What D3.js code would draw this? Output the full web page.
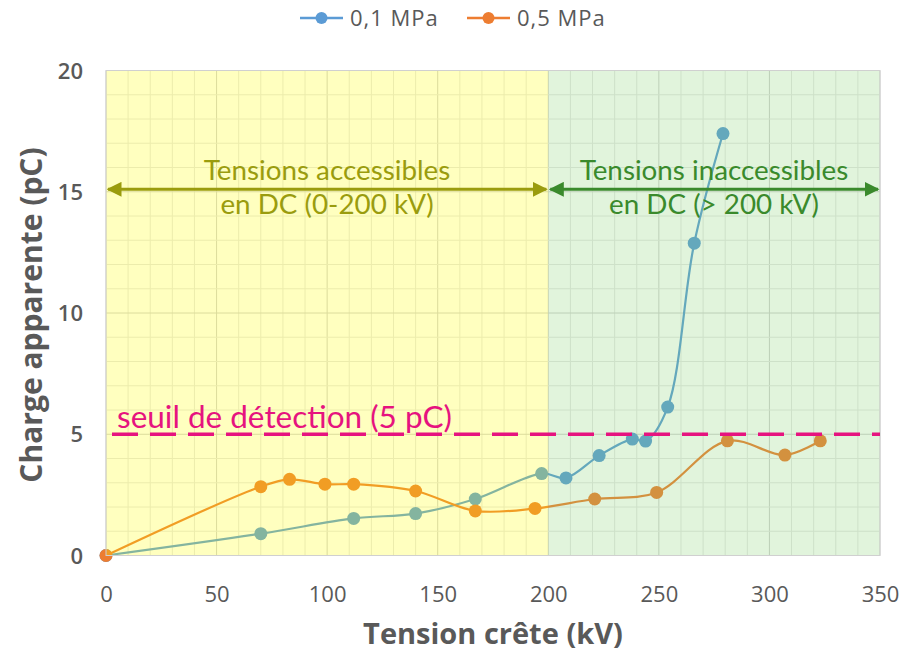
<!DOCTYPE html>
<html><head><meta charset="utf-8">
<script src="https://cdn.jsdelivr.net/npm/d3@7"></script>
<style>body{margin:0;background:#fff}svg{display:block}</style>
</head><body>
<svg id="c" width="905" height="657"></svg>
<script>
const seriesNames = ["0,1 MPa", "0,5 MPa"];
const blueX = [0, 70, 112, 140, 167, 197, 208, 223, 238, 244, 254, 266, 279];
const blueY = [0, 0.9, 1.53, 1.73, 2.33, 3.38, 3.2, 4.12, 4.8, 4.72, 6.12, 12.88, 17.4];
const orangeX = [0, 70, 83, 99, 112, 140, 167, 194, 221, 249, 281, 307, 323];
const orangeY = [0, 2.84, 3.14, 2.94, 2.94, 2.66, 1.84, 1.94, 2.33, 2.6, 4.73, 4.14, 4.73];
const xTicks = [0, 50, 100, 150, 200, 250, 300, 350];
const yTicks = [0, 5, 10, 15, 20];
const threshold = 5;
const zoneLimit = 200;
const arrowLevel = 15.1;
const xMax = 350, yMax = 20;

const svg = d3.select("#c");
const L = 106, R = 880, T = 70.5, B = 555.5;
const x = d3.scaleLinear().domain([0, xMax]).range([L, R]);
const y = d3.scaleLinear().domain([0, yMax]).range([B, T]);
const txt = "#595959";

// grid
const g = svg.append("g");
g.selectAll(".vx").data(d3.range(0, xMax + 1, 10)).join("line")
  .attr("x1", d => x(d)).attr("x2", d => x(d)).attr("y1", T).attr("y2", B)
  .attr("stroke", d => d % 50 === 0 ? "#d0d0d0" : "#e6e6e6").attr("stroke-width", 1);
g.selectAll(".hy").data(d3.range(0, yMax + 1, 1)).join("line")
  .attr("y1", d => y(d)).attr("y2", d => y(d)).attr("x1", L).attr("x2", R)
  .attr("stroke", d => d % 5 === 0 ? "#d0d0d0" : "#e6e6e6").attr("stroke-width", 1);

// series
const curve = d3.curveCatmullRom.alpha(0.5);
const series = [
  {name: seriesNames[0], xs: blueX, ys: blueY, color: "#5b9bd5"},
  {name: seriesNames[1], xs: orangeX, ys: orangeY, color: "#ed7d31"}
];
const line = d3.line().x(d => x(d[0])).y(d => y(d[1])).curve(curve);
series.forEach(s => {
  const pts = s.xs.map((v, i) => [v, s.ys[i]]);
  svg.append("path").datum(pts).attr("d", line).attr("fill", "none")
    .attr("stroke", s.color).attr("stroke-width", 2.2);
  svg.append("g").selectAll("circle").data(pts).join("circle")
    .attr("cx", d => x(d[0])).attr("cy", d => y(d[1])).attr("r", 6.5).attr("fill", s.color);
});

// zone overlays
svg.append("rect").attr("x", x(0)).attr("y", T).attr("width", x(zoneLimit) - x(0)).attr("height", B - T)
  .attr("fill", "rgb(255,255,0)").attr("fill-opacity", 0.25);
svg.append("rect").attr("x", x(zoneLimit)).attr("y", T).attr("width", x(xMax) - x(zoneLimit)).attr("height", B - T)
  .attr("fill", "rgb(130,210,110)").attr("fill-opacity", 0.24);
svg.append("rect").attr("x", L).attr("y", T).attr("width", R - L).attr("height", B - T)
  .attr("fill", "none").attr("stroke", "#d0d0d0").attr("stroke-width", 1);

// threshold
svg.append("line").attr("x1", x(0) + 6).attr("x2", x(xMax)).attr("y1", y(threshold)).attr("y2", y(threshold))
  .attr("stroke", "#e6137f").attr("stroke-width", 3.5).attr("stroke-dasharray", "26,12");
svg.append("text").attr("x", 117).attr("y", y(threshold) - 6).text("seuil de détection (5 pC)")
  .attr("font-family", "Lato").attr("font-size", 31.5).attr("fill", "#e6137f");

// arrows
const defs = svg.append("defs");
function marker(id, color) {
  defs.append("marker").attr("id", id).attr("viewBox", "0 0 10 10").attr("refX", 9).attr("refY", 5)
    .attr("markerWidth", 5).attr("markerHeight", 5).attr("orient", "auto-start-reverse").attr("markerUnits", "strokeWidth")
    .append("path").attr("d", "M0,0L10,5L0,10z").attr("fill", color);
}
const olive = "#9a9c0e", green = "#3a8a2c";
marker("mo", olive); marker("mg", green);
const ay = y(arrowLevel);
svg.append("line").attr("x1", x(0) + 2).attr("x2", x(zoneLimit) - 2).attr("y1", ay).attr("y2", ay)
  .attr("stroke", olive).attr("stroke-width", 3).attr("marker-start", "url(#mo)").attr("marker-end", "url(#mo)");
svg.append("line").attr("x1", x(zoneLimit) + 2).attr("x2", x(xMax) - 2).attr("y1", ay).attr("y2", ay)
  .attr("stroke", green).attr("stroke-width", 3).attr("marker-start", "url(#mg)").attr("marker-end", "url(#mg)");
function ann(lines, cx, color) {
  svg.append("text").attr("x", cx).attr("y", ay - 9).attr("text-anchor", "middle").text(lines[0])
    .attr("font-family", "Lato").attr("font-size", 27.8).attr("fill", color);
  svg.append("text").attr("x", cx).attr("y", ay + 25).attr("text-anchor", "middle").text(lines[1])
    .attr("font-family", "Lato").attr("font-size", 27.8).attr("fill", color);
}
ann(["Tensions accessibles", "en DC (0-200 kV)"], 327, olive);
ann(["Tensions inaccessibles", "en DC (> 200 kV)"], 714, green);

// axes
const xa = svg.append("g").attr("transform", `translate(0,${B})`)
  .call(d3.axisBottom(x).tickValues(xTicks).tickSize(0).tickPadding(31));
const ya = svg.append("g").attr("transform", `translate(${L},0)`)
  .call(d3.axisLeft(y).tickValues(yTicks).tickSize(0).tickPadding(23));
[xa, ya].forEach(a => {
  a.select(".domain").remove();
  a.selectAll("text").attr("font-family", "Open Sans").attr("font-size", 22).attr("fill", txt);
});
ya.selectAll("text").attr("dy", "0.35em").attr("font-weight", 600);

svg.append("text").attr("x", (L + R) / 2).attr("y", 644).attr("text-anchor", "middle")
  .text("Tension crête (kV)").attr("font-family", "Open Sans").attr("font-weight", "bold")
  .attr("font-size", 29).attr("fill", txt);
svg.append("text").attr("transform", `translate(42,315) rotate(-90)`).attr("text-anchor", "middle")
  .text("Charge apparente (pC)").attr("font-family", "Open Sans").attr("font-weight", "bold")
  .attr("font-size", 30).attr("fill", txt);

// legend
const lg = svg.append("g");
const legX = [300, 467];
series.forEach((s, i) => {
  const gx = legX[i];
  lg.append("line").attr("x1", gx).attr("x2", gx + 43).attr("y1", 18).attr("y2", 18)
    .attr("stroke", s.color).attr("stroke-width", 2.5);
  lg.append("circle").attr("cx", gx + 21.5).attr("cy", 18).attr("r", 6).attr("fill", s.color);
  lg.append("text").attr("x", gx + 50).attr("y", 26).text(s.name)
    .attr("font-family", "Open Sans").attr("font-size", 22).attr("letter-spacing", 1).attr("fill", txt);
});
</script>
</body></html>
